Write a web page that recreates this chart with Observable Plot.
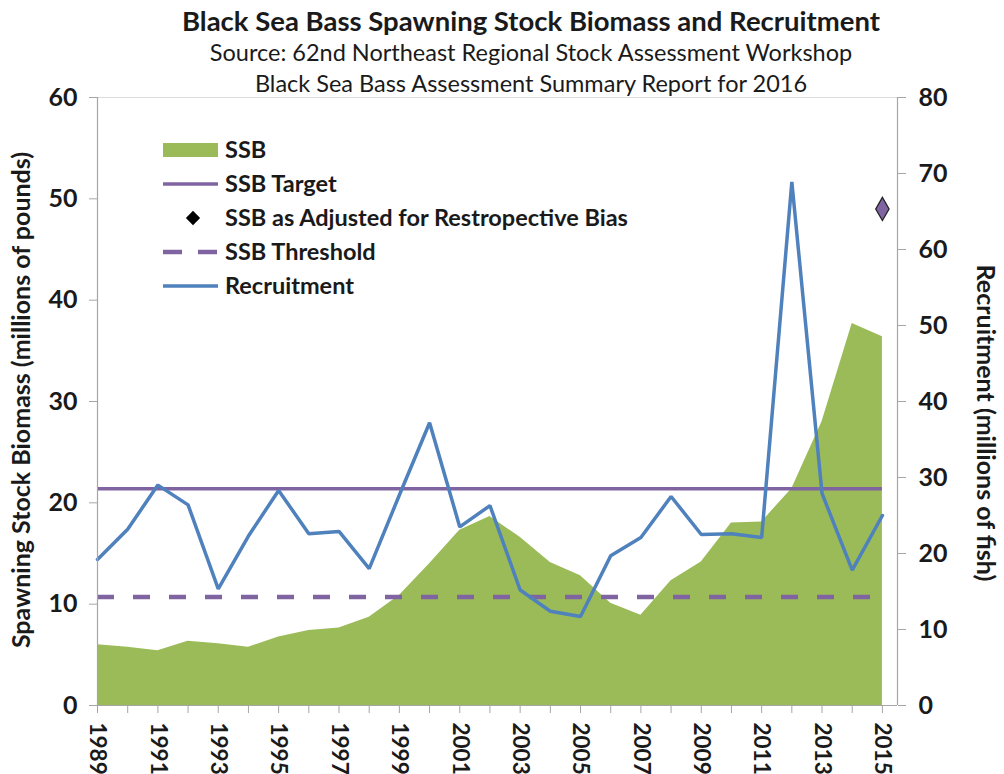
<!DOCTYPE html>
<html>
<head>
<meta charset="utf-8">
<script src="https://cdn.jsdelivr.net/npm/d3@7"></script>
<script src="https://cdn.jsdelivr.net/npm/@observablehq/plot@0.6"></script>
<style>
  body { margin: 0; background: #fff; font-family: Lato, "Open Sans", sans-serif; color: #1a1a1a; }
  #wrap { position: relative; width: 1004px; height: 774px; overflow: hidden; }
  .t { position: absolute; left: 0; width: 1062px; text-align: center; white-space: nowrap; line-height: 1.2; }
  #title { top: 4px; font-size: 27.5px; font-weight: 700; }
  #sub1 { top: 38px; font-size: 23.5px; }
  #sub2 { top: 69px; font-size: 23.5px; }
  #plot { position: absolute; left: 0; top: 85px; }
  .ytitle { position: absolute; white-space: nowrap; font-size: 25px; font-weight: 700; line-height: 1; }
  #legend { position: absolute; left: 0; top: 0; }
</style>
</head>
<body>
<div id="wrap">
  <div id="plot"></div>
  <div class="t" id="title">Black Sea Bass Spawning Stock Biomass and Recruitment</div>
  <div class="t" id="sub1">Source: 62nd Northeast Regional Stock Assessment Workshop</div>
  <div class="t" id="sub2">Black Sea Bass Assessment Summary Report for 2016</div>
  <div class="ytitle" id="ylLeft">Spawning Stock Biomass (millions of pounds)</div>
  <div class="ytitle" id="ylRight">Recruitment (millions of fish)</div>
  <svg id="legend" width="1004" height="774"></svg>
</div>
<script>
// ---- data ----
const years = [1989,1990,1991,1992,1993,1994,1995,1996,1997,1998,1999,2000,2001,2002,2003,2004,2005,2006,2007,2008,2009,2010,2011,2012,2013,2014,2015];
const ssb = [6.0,5.75,5.4,6.35,6.1,5.75,6.75,7.4,7.65,8.7,10.85,14.0,17.3,18.65,16.6,14.1,12.8,10.1,8.9,12.3,14.15,18.0,18.1,21.4,28.0,37.7,36.4];
const recruitment = [19.2,23.2,29.0,26.4,15.35,22.3,28.3,22.6,22.9,18.0,27.7,37.2,23.5,26.3,15.2,12.4,11.7,19.7,22.1,27.5,22.5,22.6,22.1,68.9,27.9,17.8,25.0];
const ssbTarget = [21.4];
const ssbThreshold = [10.7];
const adjustedYear = [2015];
const adjustedSSB = [49.0];
const leftTicks = [0,10,20,30,40,50,60];
const rightTicks = [0,10,20,30,40,50,60,70,80];
const labelYears = [1989,1991,1993,1995,1997,1999,2001,2003,2005,2007,2009,2011,2013,2015];

const green = "#9BBB59", purple = "#8064A2", blue = "#4F81BD", axisGray = "#a6a6a6";
const k = 60 / 80; // right-axis units to left-axis units

const rows = years.map((y, i) => ({year: y, ssb: ssb[i], rec: recruitment[i]}));
const adj = adjustedYear.map((y, i) => ({year: y, v: adjustedSSB[i]}));

const plot = Plot.plot({
  width: 1004,
  height: 689,
  marginTop: 12,
  marginBottom: 69,
  marginLeft: 97,
  marginRight: 107,
  style: {background: "transparent", fontFamily: "Lato, 'Open Sans', sans-serif", color: "#1a1a1a", overflow: "visible"},
  x: {domain: [1989, 2015.5]},
  y: {domain: [0, 60]},
  marks: [
    Plot.ruleY([60], {stroke: "#dcdcdc", strokeWidth: 1.2}),
    Plot.areaY(rows, {x: "year", y: "ssb", fill: green}),
    Plot.ruleY(ssbTarget, {x1: years[0], x2: years[years.length - 1], stroke: purple, strokeWidth: 3.5}),
    Plot.ruleY(ssbThreshold, {x1: years[0], x2: years[years.length - 1], stroke: purple, strokeWidth: 4.5, strokeDasharray: "17,19"}),
    Plot.lineY(rows, {x: "year", y: d => d.rec * k, stroke: blue, strokeWidth: 3.5, strokeLinejoin: "miter"}),
    Plot.dot(adj, {x: "year", y: "v", symbol: "diamond", r: 7, fill: purple, stroke: "#222", strokeWidth: 1.3}),
    Plot.ruleX([1989], {stroke: axisGray, strokeWidth: 1.2}),
    Plot.ruleX([2015.5], {stroke: axisGray, strokeWidth: 1.2}),
    Plot.ruleY([0], {stroke: axisGray, strokeWidth: 1.2}),
    Plot.axisY({anchor: "left", ticks: leftTicks, tickSize: 8, tickPadding: 12, stroke: axisGray, fontSize: 25, fontWeight: 700, label: null}),
    Plot.axisY({anchor: "right", ticks: rightTicks.map(v => v * k), tickFormat: v => Math.round(v / k), tickSize: 8, tickPadding: 13, stroke: axisGray, fontSize: 25, fontWeight: 700, label: null}),
    Plot.axisX({ticks: years, tickSize: 8, tickFormat: () => "", stroke: axisGray, label: null}),
    Plot.axisX({ticks: labelYears, tickSize: 0, tickPadding: 17, tickFormat: d => String(d), tickRotate: 90, fontSize: 22.5, fontWeight: 700, label: null})
  ]
});
document.getElementById("plot").appendChild(plot);

// axis titles
const l = document.getElementById("ylLeft");
l.style.left = "20px"; l.style.top = "400px";
l.style.transform = "translate(-50%,-50%) rotate(-90deg)";
const r = document.getElementById("ylRight");
r.style.left = "986px"; r.style.top = "423px";
r.style.transform = "translate(-50%,-50%) rotate(90deg)";

// legend
const lg = d3.select("#legend");
const lx1 = 163, lx2 = 218, tx = 225;
const items = [
  {y: 150, label: "SSB"},
  {y: 184, label: "SSB Target"},
  {y: 218, label: "SSB as Adjusted for Restropective Bias"},
  {y: 252, label: "SSB Threshold"},
  {y: 286, label: "Recruitment"}
];
lg.append("rect").attr("x", lx1).attr("y", 143).attr("width", lx2 - lx1).attr("height", 14).attr("fill", green);
lg.append("line").attr("x1", lx1).attr("x2", lx2).attr("y1", 184).attr("y2", 184).attr("stroke", purple).attr("stroke-width", 3.5);
lg.append("path").attr("d", d3.symbol(d3.symbolDiamond2, 130)()).attr("transform", "translate(193,218)").attr("fill", "#000");
lg.append("line").attr("x1", lx1).attr("x2", lx2).attr("y1", 252).attr("y2", 252).attr("stroke", purple).attr("stroke-width", 4.5).attr("stroke-dasharray", "19,16");
lg.append("line").attr("x1", lx1).attr("x2", lx2).attr("y1", 286).attr("y2", 286).attr("stroke", blue).attr("stroke-width", 3.5);
lg.selectAll("text.lt").data(items).join("text").attr("class", "lt")
  .attr("x", tx).attr("y", d => d.y).attr("dy", "0.36em")
  .attr("font-size", 23.5).attr("font-weight", 700).attr("fill", "#1a1a1a")
  .attr("font-family", "Lato, 'Open Sans', sans-serif")
  .text(d => d.label);
</script>
</body>
</html>
